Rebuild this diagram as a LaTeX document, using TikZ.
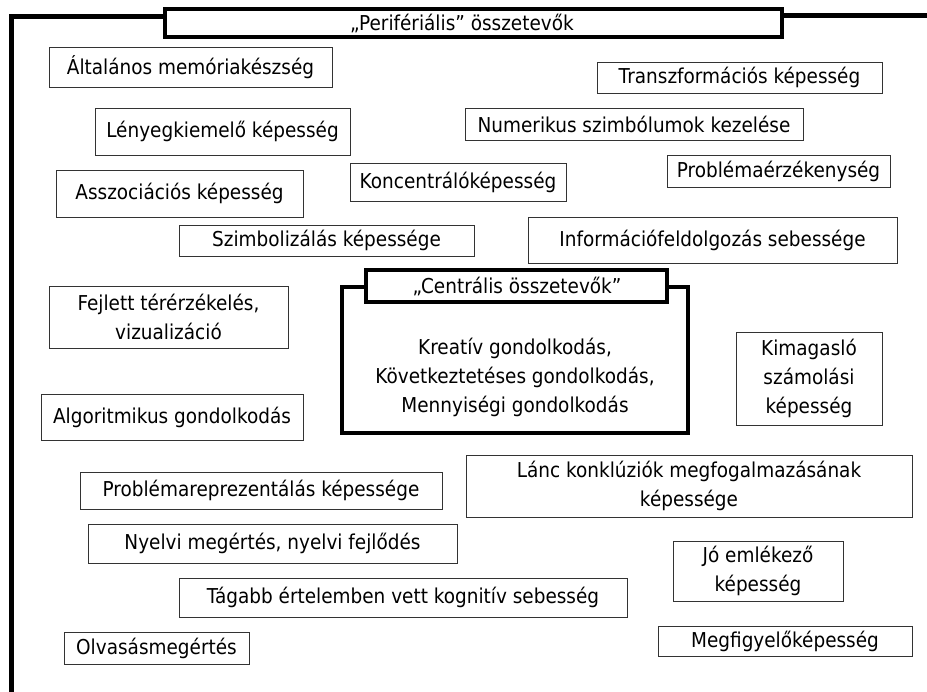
\documentclass[tikz,border=0pt]{standalone}
\usepackage{fontspec}
\setmainfont{DejaVu Sans}[FakeStretch=0.9]
\begin{document}
\begin{tikzpicture}[x=1pt,y=-1pt,
	box/.style={draw=black!80, line width=0.9pt, inner sep=0pt, align=center,
		font=\fontsize{20.5}{29}\selectfont},
	heavybox/.style={draw=black, line width=3.2pt, fill=white, inner sep=0pt},
	frame/.style={line width=5pt}]
	\useasboundingbox (0,0) rectangle (927,692);
	% outer frame with the title on its top line
	\draw[frame] (11,692) -- (11,16.5) -- (165,16.5);
	\draw[frame] (782,15.5) -- (927,15.5);
	\node[heavybox, minimum width=617pt, minimum height=28pt] (perif) at (473.5,23) {};
	\node[font=\fontsize{20.5}{24}\selectfont] (periftitle) at (462,23.5) {„Perifériális” összetevők};
	% peripheral components
	\node[box, minimum width=283pt, minimum height=40pt] (altalanos) at (190.5,67) {Általános memóriakészség};
	\node[box, minimum width=285pt, minimum height=31pt] (transzf) at (739.5,77.5) {Transzformációs képesség};
	\node[box, minimum width=255pt, minimum height=47pt] (lenyeg) at (222.5,131.5) {Lényegkiemelő képesség};
	\node[box, minimum width=338pt, minimum height=32pt] (numerikus) at (634,124) {Numerikus szimbólumok kezelése};
	\node[box, minimum width=223pt, minimum height=32pt] (problerz) at (778.5,171) {Problémaérzékenység};
	\node[box, minimum width=247pt, minimum height=47pt] (asszoc) at (179.5,193.5) {Asszociációs képesség};
	\node[box, minimum width=216pt, minimum height=38pt] (koncentr) at (458,182) {Koncentrálóképesség};
	\node[box, minimum width=295pt, minimum height=31pt] (szimbol) at (326.5,240.5) {Szimbolizálás képessége};
	\node[box, minimum width=369pt, minimum height=46pt] (inform) at (712.5,240) {Információfeldolgozás sebessége};
	\node[box, minimum width=239pt, minimum height=62pt] (fejlett) at (168.5,317) {Fejlett térérzékelés,\\ vizualizáció};
	\node[box, minimum width=262pt, minimum height=46pt] (algor) at (172,417) {Algoritmikus gondolkodás};
	\node[box, minimum width=146pt, minimum height=93pt] (kimag) at (809,378.5) {Kimagasló\\ számolási\\ képesség};
	\node[box, minimum width=362pt, minimum height=37pt] (problrepr) at (261,490.5) {Problémareprezentálás képessége};
	\node[box, minimum width=446pt, minimum height=62pt] (lanc) at (689,486) {Lánc konklúziók megfogalmazásának\\ képessége};
	\node[box, minimum width=369pt, minimum height=39pt] (nyelvi) at (272.5,543.5) {Nyelvi megértés, nyelvi fejlődés};
	\node[box, minimum width=170pt, minimum height=60pt] (emlekezo) at (758,571) {Jó emlékező\\ képesség};
	\node[box, minimum width=448pt, minimum height=39pt] (tagabb) at (403,597.5) {Tágabb értelemben vett kognitív sebesség};
	\node[box, minimum width=185pt, minimum height=32pt] (olvas) at (156.5,648) {Olvasásmegértés};
	\node[box, minimum width=254pt, minimum height=30pt] (megfigy) at (785,641) {Megfigyelőképesség};
	% central components
	\node[heavybox, minimum width=346pt, minimum height=146pt] (central) at (515,360) {};
	\node[heavybox, minimum width=301pt, minimum height=32pt] (centtitle) at (516.5,286) {};
	\node[font=\fontsize{20.5}{24}\selectfont] (centtitletext) at (517,286.5) {„Centrális összetevők”};
	\node[box, draw=none] (centtext) at (515,377) {Kreatív gondolkodás,\\ Következtetéses gondolkodás,\\ Mennyiségi gondolkodás};
\end{tikzpicture}
\end{document}
